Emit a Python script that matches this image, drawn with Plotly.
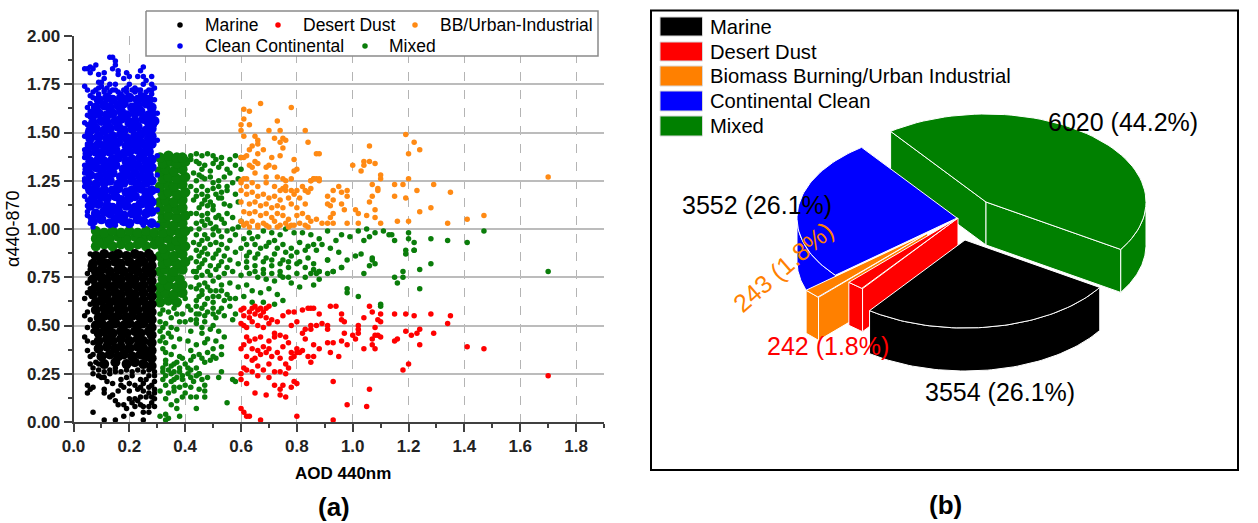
import numpy as np
import plotly.graph_objects as go

# Values, as x,y,x,y... in hundredths. The *_core lists stand for the
# saturated areas, where single points cannot be told apart: they are drawn with larger markers.
blue_core = [7,104,10,105,13,103,15,105,18,104,20,103,23,105,25,104,28,103,
8,108,11,109,13,108,16,109,18,107,21,108,23,109,26,108,28,109,
6,112,9,113,12,112,14,111,17,113,19,112,22,111,24,113,27,112,28,114,
7,116,10,117,12,116,15,117,17,115,20,116,22,117,25,115,27,116,
6,120,9,119,11,120,14,120,16,121,19,119,21,120,24,121,26,119,28,120,
5,124,8,123,11,124,13,125,16,123,18,124,21,125,23,123,26,124,28,125,
6,128,9,127,12,128,14,129,17,127,19,128,22,129,24,127,27,128,
5,131,8,132,10,131,13,132,15,133,18,131,20,132,23,133,25,131,28,132,
6,135,9,136,11,135,14,136,16,137,19,135,21,136,24,137,26,135,28,136,
5,139,8,140,10,139,13,140,15,141,18,139,20,140,23,141,25,139,27,140,
6,143,9,144,11,143,14,144,16,145,19,143,21,144,24,145,26,143,28,144,
6,147,9,148,12,147,14,148,17,149,19,147,22,148,24,149,27,147,28,148,
6,151,8,152,11,151,13,152,16,153,18,151,21,152,23,153,26,151,28,152,
7,155,10,156,12,155,15,156,17,157,20,155,22,156,25,157,27,155,29,156,
7,159,9,160,12,159,14,160,17,161,19,159,22,160,24,161,27,159,28,160,
8,163,11,164,13,163,16,164,18,165,21,163,23,164,26,165,28,163,
9,167,12,168,14,167,17,168,20,168,23,167,25,168,27,167]
blue_sparse = [13,189,14,189,15,187,15,185,14,183,16,182,16,180,19,181,18,178,20,179,4,183,5,183,7,183,6,184,8,185,6,181,
9,180,11,181,10,176,9,176,11,178,10,174,13,175,11,172,15,175,14,172,4,174,5,172,25,184,24,182,23,179,25,179,28,179,26,177,
25,175,28,175,29,173,28,172,20,175,19,173,22,173,17,170,23,172,6,169,9,170,5,163,5,159,4,155,5,154,5,144,4,137,4,125,4,117,5,115,5,107,
5,143,5,137,5,129,4,126,5,121,29,167,30,160,29,154,30,146,30,138,30,128,30,120,30,110,30,102,6,106,6,103,7,101,15,102,20,102,25,102,
7,171,8,172,9,173,12,173,13,171,15,172,16,171,18,172,19,171,21,172,24,172,26,171,27,172,7,168,11,171,22,171,24,170,28,170,
6,165,6,161,6,158,5,150,4,148,4,141,4,133,4,129,4,122,5,112,5,109]
green_strip = [8,91,11,92,14,91,17,92,20,91,23,92,26,91,29,92,8,95,10,96,13,95,16,96,19,95,22,96,25,95,28,96,30,94,
8,99,11,98,14,99,17,98,20,99,23,98,26,99,29,98,9,93,24,93]
green_core = [31,62,34,63,37,62,31,66,33,67,36,66,39,67,31,70,34,71,37,70,39,71,32,74,35,75,38,74,31,78,33,79,36,78,39,79,
32,82,34,83,37,82,40,83,31,86,33,87,36,86,39,87,32,90,35,91,38,90,40,91,31,94,34,95,37,94,39,95,32,98,35,99,38,98,40,99,
31,102,33,103,36,102,39,103,32,106,34,107,37,106,40,107,31,110,34,111,37,110,39,111,31,114,33,115,36,114,39,115,32,118,34,119,37,118,40,119,
31,122,34,123,36,122,39,123,32,126,34,127,37,126,40,127,31,130,33,131,36,130,39,131,32,134,35,135,37,134,40,135,31,137,34,138,37,137,39,137]
green_sparse = [42,136,43,129,42,122,43,115,42,108,42,100,43,93,42,85,43,78,42,70,31,56,34,57,37,56,31,52,33,51,31,47,34,46,31,42,33,41,
32,58,35,54,38,52,32,49,35,49,37,48,39,56,40,52,41,60,40,64,36,59,32,44,35,44,38,43,32,38,36,39,
42,138,44,139,46,138,48,139,50,138,53,137,56,136,58,138,60,137,45,134,47,133,50,134,52,132,55,131,58,133,60,131,
45,128,47,126,49,127,52,125,54,127,57,124,59,126,46,122,48,120,50,121,53,119,55,122,58,118,44,117,47,115,49,114,52,116,54,113,56,112,59,114,
45,111,48,108,50,110,52,107,55,108,57,106,60,104,46,104,49,103,51,101,54,103,57,100,59,101,45,100,47,97,50,97,53,96,56,94,58,97,61,95,63,98,
66,96,68,99,71,98,74,97,76,100,79,98,82,98,85,97,88,95,91,99,94,94,96,97,99,96,102,99,104,94,65,92,69,91,72,94,75,92,78,90,81,93,84,91,87,89,92,90,95,88,
45,92,47,90,49,92,52,89,55,90,58,88,60,90,63,88,66,87,69,85,72,87,75,84,78,86,81,83,84,85,86,82,88,78,91,84,93,78,96,80,
45,86,47,84,50,85,53,83,56,84,59,82,62,83,65,81,68,79,71,81,74,78,77,80,80,77,83,75,45,80,48,78,51,79,54,77,57,78,60,76,63,77,66,75,69,74,72,73,75,75,78,72,81,70,
44,75,47,72,50,73,53,71,56,72,59,70,62,71,64,68,67,67,70,69,73,66,44,69,46,66,49,68,52,65,55,66,58,64,61,65,64,62,68,62,72,61,75,63,
44,63,47,61,50,62,53,59,56,60,58,56,42,58,45,56,48,57,51,54,54,55,42,53,44,51,47,52,49,48,52,47,57,53,42,47,46,46,48,43,51,42,54,44,
41,42,44,40,47,41,50,38,53,39,42,37,45,35,48,36,51,33,33,36,35,35,38,34,33,30,35,29,37,31,40,30,42,32,44,28,47,31,50,34,53,35,
32,26,34,27,36,26,39,24,42,27,45,25,48,23,52,23,53,26,57,22,58,21,32,22,35,21,37,23,40,19,43,21,47,19,47,16,38,18,36,16,45,25,
31,16,34,15,47,13,55,10,35,9,37,7,33,4,31,3,34,2,38,3,33,1,44,7,
108,98,105,100,106,96,120,98,120,95,122,93,119,89,122,89,114,97,115,94,111,99,113,97,128,95,134,94,141,93,147,99,
170,78,128,82,124,79,124,69,118,78,115,75,118,75,116,72,119,87,122,89,108,82,106,81,104,77,101,86,103,87,107,85,107,84,98,84,91,84,96,80,93,78,91,77,
88,78,87,77,85,77,88,74,86,71,98,69,98,67,102,65,110,61,110,60,
44,135,46,131,49,130,51,136,53,134,56,129,44,125,46,127,50,124,52,122,55,120,44,120,46,118,48,117,51,118,53,116,46,113,48,112,50,112,44,108,46,107,
48,105,51,106,53,105,44,103,47,102,50,100,52,99,55,99,44,97,46,94,48,95,51,93,53,92,44,89,46,88,48,87,51,87,54,86,44,83,46,82,49,81,52,81,55,80,
44,78,46,76,49,76,52,75,45,71,48,70,51,68,46,68,53,68,45,65,48,64,50,65,54,63,56,64,44,60,46,59,50,59,52,57,44,56,47,55,50,56,44,53,46,49,50,50,
62,92,64,95,67,90,70,93,73,90,76,88,80,88,83,89,86,92,89,92,62,86,65,85,68,83,71,84,74,82,77,83,80,82,83,80,86,79,62,80,65,78,68,77,71,77,74,76,77,75,
33,32,36,30,38,28,41,28,39,33,43,34,46,33,49,32,32,28,35,25,38,26,41,25,44,24,33,24,36,22,39,22,42,23,46,22,33,19,36,18,40,15,42,18,45,17,
39,13,42,13,33,12,37,11,44,13]
black_core = [8,86,11,87,14,86,16,87,19,86,22,87,24,86,27,87,28,85,7,82,10,83,12,82,15,83,17,82,20,83,23,82,25,83,28,81,
8,78,10,79,13,78,16,79,18,78,21,79,23,78,26,79,28,77,7,74,10,75,12,74,15,75,17,74,20,75,22,74,25,75,28,73,
8,70,10,71,13,70,15,71,18,70,20,71,23,70,25,71,28,69,7,66,10,67,12,66,15,67,17,66,20,67,22,66,25,67,28,65,
8,62,10,63,13,62,15,63,18,62,20,63,23,62,25,63,28,61,8,58,11,59,13,58,16,59,18,58,21,59,23,58,26,59,28,57,
9,54,11,55,14,54,16,55,19,54,21,55,24,54,26,55,28,53,8,50,10,51,13,50,15,51,18,50,20,51,23,50,25,51,28,49,
9,46,11,47,14,46,17,47,19,46,22,47,24,46,27,47,28,45,9,42,12,43,14,42,17,43,20,42,23,43,25,42,28,41,
9,38,12,39,15,38,17,39,20,38,23,39,25,38,28,37,10,34,13,35,16,34,18,35,21,34,24,35,26,34,28,33,11,30,15,31,19,30,22,31,25,30,28,29]
black_sparse = [6,87,6,81,5,77,5,72,4,64,5,57,4,55,5,49,4,44,5,42,5,37,6,34,6,30,7,28,7,25,9,24,
10,23,13,25,15,26,17,22,19,23,21,24,24,22,27,24,29,26,29,21,28,19,
5,19,6,17,7,18,5,15,11,17,11,15,13,13,14,14,16,16,18,18,20,16,23,17,25,16,27,15,
15,11,16,9,18,9,20,12,21,10,23,11,24,9,26,13,28,10,29,12,27,8,25,8,22,8,
19,7,18,3,21,4,25,5,27,5,7,5,11,1,15,1,25,1,
9,27,11,26,13,27,15,28,17,26,19,27,21,26,23,27,25,26,27,27,29,24,11,23,12,21,14,20,17,19,20,20,22,19,25,20,26,22,24,18,27,18,29,17,
6,79,6,74,6,69,5,67,6,61,6,53,7,47,7,41,7,35,8,31,9,30,29,15,29,8,28,13,24,13,22,12]
orange_pts = [67,165,61,162,63,161,78,163,61,157,60,154,63,154,60,151,73,156,70,151,74,151,83,151,65,148,61,148,66,146,72,147,75,147,76,146,
74,145,84,145,75,142,64,143,66,144,68,141,66,139,63,141,87,139,61,137,60,137,62,138,71,137,74,138,79,136,70,133,65,135,66,134,63,133,69,132,
72,132,80,131,79,130,64,132,65,129,69,127,61,126,60,125,62,126,73,127,75,126,78,126,76,125,86,126,87,126,85,125,60,124,64,124,62,122,66,122,
69,124,72,122,75,121,74,120,76,120,76,122,78,120,80,120,82,122,83,120,84,119,85,125,
100,133,103,130,104,133,104,135,106,135,108,134,106,143,119,149,122,145,120,139,124,141,88,139,110,128,110,126,120,126,107,123,109,121,109,120,
115,123,118,123,129,123,123,120,135,119,115,117,119,116,107,117,106,114,101,110,102,108,108,110,105,107,108,106,124,109,128,111,102,103,110,103,
116,104,120,104,134,103,141,105,147,107,170,127,86,126,88,126,88,125,85,121,93,120,95,122,96,119,98,120,98,117,91,117,93,115,96,113,91,113,92,112,97,110,
93,108,92,106,91,103,93,103,98,103,85,104,
60,120,62,118,64,119,66,117,68,118,70,116,72,117,74,115,77,116,79,118,81,116,60,114,63,113,65,114,67,112,69,113,71,111,73,112,75,111,78,113,80,111,83,113,
61,109,63,108,65,109,67,107,69,108,71,106,73,108,75,107,77,105,80,107,82,108,84,106,60,104,62,103,64,104,66,102,68,103,70,101,72,104,74,102,76,103,78,102,81,103,83,102,
61,102,63,101,66,101,69,102,73,101,77,101,79,102,84,101,87,105,89,103]
red_pts = [92,60,94,60,106,60,107,57,110,56,115,56,119,56,122,55,128,56,135,55,134,51,104,54,96,56,96,53,97,52,109,53,110,52,102,50,108,49,102,48,102,46,100,45,101,43,97,46,
91,50,91,48,89,51,87,50,85,48,119,47,124,48,123,46,121,45,129,46,109,45,108,45,107,43,110,44,116,43,115,42,124,40,141,39,147,38,107,40,108,38,104,38,98,40,96,42,93,41,91,41,88,38,86,40,
92,36,95,34,86,34,85,31,120,30,118,27,170,24,93,21,106,17,98,9,105,8,93,1,88,56,86,59,85,59,
60,58,61,59,63,57,64,59,65,60,66,58,67,59,68,57,69,59,70,60,61,55,63,54,65,56,67,55,69,54,71,53,73,52,75,55,77,57,79,57,82,58,84,59,
60,51,61,50,62,49,64,52,66,50,68,49,70,51,72,46,74,45,76,44,78,50,80,52,82,46,83,48,85,50,
62,44,63,42,65,43,67,44,70,42,72,44,77,41,80,38,83,43,60,38,61,40,64,38,66,37,68,39,70,38,73,36,75,39,78,36,80,36,82,37,84,34,
62,34,64,32,65,33,67,35,69,36,71,34,74,33,76,30,78,33,79,34,81,36,
61,28,62,27,64,26,66,29,68,27,70,30,72,26,74,26,76,25,77,28,60,25,60,22,62,20,66,24,70,23,72,19,74,17,75,19,78,18,79,21,80,20,
65,15,69,14,74,14,76,13,67,1,60,7,61,5,62,3,63,3,80,3]

# Pie
slice_labels = ["Marine", "Desert Dust", "Biomass Burning/Urban Industrial", "Continental Clean", "Mixed"]
slice_values = [3554, 242, 243, 3552, 6020]
slice_colors = ["#000000", "#FF0000", "#FF8000", "#0000FF", "#008000"]
slice_texts = ["3554 (26.1%)", "242 (1.8%)", "243 (1.8%)", "3552 (26.1%)", "6020 (44.2%)"]
scatter_names = ["Marine", "Desert Dust", "BB/Urban-Industrial", "Clean Continental", "Mixed"]

W, H = 1258, 523
fig = go.Figure()

def xy(flat):
    return np.array(flat[0::2]) / 100, np.array(flat[1::2]) / 100

def pts(flat, color, size):
    x, y = xy(flat)
    fig.add_trace(go.Scatter(x=x, y=y, mode="markers", marker=dict(color=color, size=size, line=dict(width=0)),
                             showlegend=False, hoverinfo="skip", cliponaxis=False))

GREEN = "#0A7D0A"
pts(green_strip, GREEN, 10)
pts(green_core, GREEN, 10.5)
pts(green_sparse, GREEN, 5.5)
pts(blue_core, "#0000F0", 10)
pts(blue_sparse, "#0000F0", 5.5)
pts(black_core, "#000000", 10)
pts(black_sparse, "#000000", 5.5)
pts(orange_pts, "#FF8A14", 5.5)
pts(red_pts, "#FF0000", 5.5)

# Legend of panel (a), on a pixel-scaled overlay axis
def ov(x, y, **kw):
    fig.add_trace(go.Scatter(x=x, y=y, xaxis="x2", yaxis="y2", showlegend=False, hoverinfo="skip", cliponaxis=False, **kw))

ov([146, 598, 598, 146, 146], [11, 11, 56, 56, 11], mode="lines", fill="toself", fillcolor="white",
   line=dict(color="#8a8a8a", width=1.5))
leg_marks = [(180, 25, "#000000"), (278, 25, "#FF0000"), (415, 25, "#FF8A14"), (180, 46, "#0000F0"), (365, 46, GREEN)]
leg_text = [(203, 25), (301, 25), (438, 25), (203, 46), (387, 46)]
for (mx, my, c) in leg_marks:
    ov([mx], [my], mode="markers", marker=dict(color=c, size=5.5))

# Projected pie: each slice's angles come from its value
A, B, D = 160, 88, 43
total = sum(slice_values)
start = 126.6
clock = [4, 0, 1, 2, 3]
apex = {4: (986, 202), 0: (965, 240), 1: (958, 218), 2: (927.7, 233), 3: (957, 218)}
ang = {}
a = start
for i in clock:
    b = a - 360 * slice_values[i] / total
    ang[i] = (a, b)
    a = b

def arc(i, a0, a1, n=60, dz=0):
    t = np.radians(np.linspace(a0, a1, n))
    cx, cy = apex[i]
    return cx + A * np.cos(t), cy - B * np.sin(t) + dz

def poly(i, px, py):
    ov(list(px) + [px[0]], list(py) + [py[0]], mode="lines", fill="toself", fillcolor=slice_colors[i],
       line=dict(color="white", width=1))

def top(i):
    x, y = arc(i, *ang[i])
    cx, cy = apex[i]
    poly(i, [cx, *x], [cy, *y])

def cut(i, theta):
    x, y = arc(i, theta, theta, n=1)
    cx, cy = apex[i]
    poly(i, [cx, x[0], x[0], cx], [cy, y[0], y[0] + D, cy + D])

def wall(i, a0, a1):
    x, y = arc(i, a0, a1)
    x2, y2 = arc(i, a1, a0, dz=D)
    poly(i, [*x, *x2], [*y, *y2])

g, m, r, o, c = 4, 0, 1, 2, 3
cut(g, ang[g][0])
wall(c, -180, ang[c][0])
top(c)
wall(o, ang[o][0], ang[o][1])
cut(o, ang[o][0])
top(o)
wall(r, ang[r][0], ang[r][1])
cut(r, ang[r][0])
top(r)
wall(m, ang[m][0], ang[m][1])
top(m)
cut(g, ang[g][1])
wall(g, 0, ang[g][1])
top(g)

ann = []
def text(x, y, s, size, color="black", bold=False, angle=0, anchor="center"):
    ann.append(dict(x=x, y=y, xref="x2", yref="y2", text=f"<b>{s}</b>" if bold else s, showarrow=False, xanchor=anchor,
                    yanchor="middle", textangle=angle, font=dict(family="Liberation Sans", size=size, color=color)))

for (tx, ty), s in zip(leg_text, scatter_names):
    text(tx, ty, s, 17.5, anchor="left")
label_pos = [(1000, 392), (828, 346), (783, 267), (757, 205), (1123, 122)]
for i, (tx, ty) in enumerate(label_pos):
    col = slice_colors[i] if i in (1, 2) else "black"
    text(tx, ty, slice_texts[i], 25, color=col, angle=-41 if i == 2 else 0)

swatch_y = [(17, 36), (42, 61), (66, 86), (91, 111), (116, 136)]
shapes = [dict(type="rect", xref="x2", yref="y2", x0=651, x1=1238, y0=10.5, y1=470, line=dict(color="black", width=2))]
for i, (y0, y1) in enumerate(swatch_y):
    shapes.append(dict(type="rect", xref="x2", yref="y2", x0=660, x1=702.5, y0=y0, y1=y1,
                       fillcolor=slice_colors[i], line=dict(color="#d8d8d8", width=1)))
    text(708, (y0 + y1) / 2, slice_labels[i], 20.2, anchor="left")

text(343, 473, "AOD 440nm", 17, bold=True)
text(13, 229, "α440-870", 18, angle=-90)
text(334, 507, "(a)", 26, bold=True)
text(945, 505, "(b)", 26, bold=True)

AX = "#404040"
tf = dict(family="Liberation Sans", size=17, color="#222222", weight="bold")
fig.update_layout(
    width=W, height=H, margin=dict(l=0, r=0, t=0, b=0, autoexpand=False), paper_bgcolor="white", plot_bgcolor="rgba(0,0,0,0)",
    showlegend=False, annotations=ann, shapes=shapes,
    xaxis=dict(domain=[73.5 / W, 604 / W], range=[0, 1.9], dtick=0.2, tick0=0, tickformat=".1f", showline=True, linecolor=AX, linewidth=2,
               ticks="outside", ticklen=8, tickwidth=2, tickcolor=AX, tickfont=tf, showgrid=True, gridcolor="#b4b4b4", griddash="dash",
               gridwidth=1, zeroline=False, anchor="y",
               minor=dict(dtick=0.1, ticks="outside", ticklen=4, tickwidth=2, tickcolor=AX, showgrid=False)),
    yaxis=dict(domain=[(H - 422) / H, (H - 36) / H], range=[0, 2], dtick=0.25, tick0=0, tickformat=".2f", showline=True, linecolor=AX, linewidth=2,
               ticks="outside", ticklen=8, tickwidth=2, tickcolor=AX, tickfont=tf, showgrid=True, gridcolor="#bcbcbc", gridwidth=1.5,
               zeroline=False, anchor="x",
               minor=dict(dtick=0.125, ticks="outside", ticklen=4, tickwidth=2, tickcolor=AX, showgrid=False)),
    xaxis2=dict(domain=[0, 1], range=[0, W], visible=False, anchor="y2", fixedrange=True),
    yaxis2=dict(domain=[0, 1], range=[H, 0], visible=False, anchor="x2", fixedrange=True),
)
fig.write_html("out.html", config={"displayModeBar": False}, post_script="document.body.style.margin='0';")
